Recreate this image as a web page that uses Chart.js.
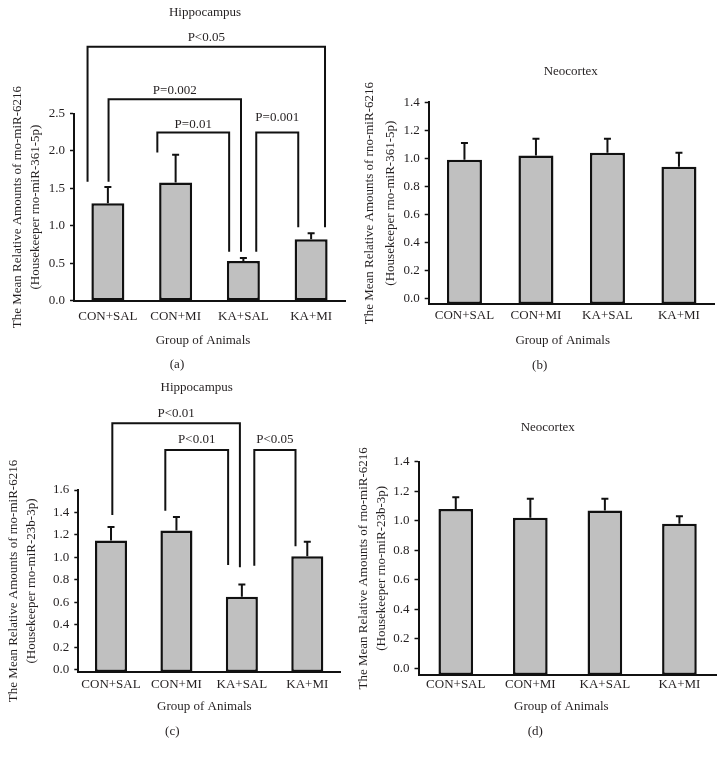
<!DOCTYPE html>
<html>
<head>
<meta charset="utf-8">
<script src="https://cdn.jsdelivr.net/npm/chart.js@4.4.1/dist/chart.umd.min.js"></script>
<style>
html,body{margin:0;padding:0;background:#fff;}
#wrap{position:relative;width:726px;height:758px;background:#fff;}
canvas{position:absolute;left:0;top:0;}
</style>
</head>
<body>
<div id="wrap">
<canvas id="pa" width="726" height="758"></canvas>
<canvas id="pb" width="726" height="758"></canvas>
<canvas id="pc" width="726" height="758"></canvas>
<canvas id="pd" width="726" height="758"></canvas>
</div>
<script>
// ---------- data ----------
const groups = ['CON+SAL', 'CON+MI', 'KA+SAL', 'KA+MI'];

const hippo361Mean = [1.30, 1.58, 0.53, 0.82];
const hippo361Err  = [0.22, 0.37, 0.04, 0.08];
const neo361Mean   = [0.99, 1.02, 1.04, 0.94];
const neo361Err    = [0.12, 0.12, 0.10, 0.10];
const hippo23bMean = [1.15, 1.24, 0.65, 1.01];
const hippo23bErr  = [0.12, 0.12, 0.11, 0.13];
const neo23bMean   = [1.08, 1.02, 1.07, 0.98];
const neo23bErr    = [0.08, 0.13, 0.08, 0.05];

const ticksA = [0.0, 0.5, 1.0, 1.5, 2.0, 2.5];
const ticksB = [0.0, 0.2, 0.4, 0.6, 0.8, 1.0, 1.2, 1.4];
const ticksC = [0.0, 0.2, 0.4, 0.6, 0.8, 1.0, 1.2, 1.4, 1.6];
const ticksD = [0.0, 0.2, 0.4, 0.6, 0.8, 1.0, 1.2, 1.4];

// significance brackets: category span (fractional index), bracket height and leg ends (data units)
const hippo361Brackets = [
  {label: 'P<0.05',  from: -0.30, to: 3.205, top: 3.39, leftEnd: 1.59, rightEnd: 0.98, labelAt: 3.52},
  {label: 'P=0.002', from: 0.01,  to: 1.965, top: 2.69, leftEnd: 1.59, rightEnd: 0.654, labelAt: 2.80},
  {label: 'P=0.01',  from: 0.73,  to: 1.79,  top: 2.245, leftEnd: 1.98, rightEnd: 0.654, labelAt: 2.35},
  {label: 'P=0.001', from: 2.19,  to: 2.81,  top: 2.245, leftEnd: 0.654, rightEnd: 0.98, labelAt: 2.45}
];
const hippo23bBrackets = [
  {label: 'P<0.01', from: 0.02, to: 1.97, top: 2.193, leftEnd: 1.378, rightEnd: 0.913, labelAt: 2.28},
  {label: 'P<0.01', from: 0.83, to: 1.79, top: 1.956, leftEnd: 1.416, rightEnd: 0.933, labelAt: 2.044},
  {label: 'P<0.05', from: 2.19, to: 2.82, top: 1.956, leftEnd: 0.927, rightEnd: 1.10, labelAt: 2.044}
];

const yTitle361 = ['The Mean Relative Amounts of rno-miR-6216', '(Housekeeper rno-miR-361-5p)'];
const yTitle23b = ['The Mean Relative Amounts of rno-miR-6216', '(Housekeeper rno-miR-23b-3p)'];

// ---------- style ----------
const FONT = '"Liberation Serif", "Times New Roman", serif';
const TXT = '#231f20';
const INK = '#111111';
const FILL = '#c0c0c0';

const overlay = {
  id: 'overlay',
  afterDatasetsDraw(chart) {
    const o = chart.options.plugins.overlay;
    const {ctx} = chart;
    const x = chart.scales.x, y = chart.scales.y;
    const vals = chart.data.datasets[0].data;
    ctx.save();
    ctx.strokeStyle = INK;
    ctx.lineWidth = 2;
    ctx.lineCap = 'butt';
    // error bars
    o.err.forEach((e, i) => {
      const px = x.getPixelForValue(i);
      const y0 = y.getPixelForValue(vals[i]);
      const y1 = y.getPixelForValue(vals[i] + e);
      ctx.beginPath();
      ctx.moveTo(px, y0); ctx.lineTo(px, y1);
      ctx.moveTo(px - 3.5, y1); ctx.lineTo(px + 3.5, y1);
      ctx.stroke();
    });
    // brackets
    ctx.fillStyle = TXT;
    ctx.font = '13px ' + FONT;
    ctx.textAlign = 'center';
    ctx.textBaseline = 'middle';
    (o.brackets || []).forEach(b => {
      const x1 = x.getPixelForValue(b.from), x2 = x.getPixelForValue(b.to);
      const yt = y.getPixelForValue(b.top);
      ctx.beginPath();
      ctx.moveTo(x1, y.getPixelForValue(b.leftEnd));
      ctx.lineTo(x1, yt);
      ctx.lineTo(x2, yt);
      ctx.lineTo(x2, y.getPixelForValue(b.rightEnd));
      ctx.stroke();
      ctx.fillText(b.label, (x1 + x2) / 2, y.getPixelForValue(b.labelAt));
    });
    // texts
    o.texts.forEach(t => ctx.fillText(t.text, t.x, t.y));
    ctx.restore();
  }
};

function makePanel(id, p) {
  return new Chart(document.getElementById(id), {
    type: 'bar',
    data: {
      labels: groups,
      datasets: [{
        data: p.mean,
        backgroundColor: FILL,
        borderColor: INK,
        borderWidth: 2.5,
        borderSkipped: false,
        base: p.yMin,
        categoryPercentage: 1,
        barPercentage: p.barPct
      }]
    },
    options: {
      responsive: false,
      animation: false,
      events: [],
      layout: {padding: {left: p.L - p.yW, right: 726 - p.R, top: p.T, bottom: 758 - p.B - 30}},
      plugins: {
        legend: {display: false},
        tooltip: {enabled: false},
        overlay: {err: p.err, brackets: p.brackets, texts: p.texts}
      },
      scales: {
        x: {
          grid: {display: false, drawTicks: false, tickLength: 0},
          border: {display: true, color: INK, width: 2},
          ticks: {font: {family: FONT, size: 13}, color: TXT, padding: p.xPad, maxRotation: 0, autoSkip: false},
          afterFit: s => { s.height = 30; }
        },
        y: {
          min: p.yMin, max: p.yMax,
          afterBuildTicks: s => { s.ticks = p.ticks.map(v => ({value: v})); },
          ticks: {font: {family: FONT, size: 13}, color: TXT, padding: 5, callback: v => Number(v).toFixed(1)},
          grid: {display: true, drawOnChartArea: false, drawTicks: true, tickLength: 4, tickColor: INK, tickWidth: 1.5},
          border: {display: true, color: INK, width: 2},
          title: {display: true, text: p.yTitle, color: TXT, padding: 0,
                  font: {family: FONT, size: 13, lineHeight: p.yLH / 13}},
          afterFit: s => { s.width = p.yW; }
        }
      }
    },
    plugins: [overlay]
  });
}

makePanel('pa', {
  mean: hippo361Mean, err: hippo361Err, ticks: ticksA, brackets: hippo361Brackets, yTitle: yTitle361,
  L: 74, R: 345, T: 113.5, B: 300.7, yMin: 0, yMax: 2.5, yW: 65, yLH: 18, barPct: 0.487, xPad: 8,
  texts: [{text: 'Hippocampus', x: 205, y: 12.7}, {text: 'Group of Animals', x: 203, y: 341}, {text: '(a)', x: 177, y: 365}]
});
makePanel('pb', {
  mean: neo361Mean, err: neo361Err, ticks: ticksB, brackets: [], yTitle: yTitle361,
  L: 428.7, R: 714.7, T: 102.3, B: 304, yMin: -0.038, yMax: 1.4, yW: 69.5, yLH: 21, barPct: 0.49, xPad: 4,
  texts: [{text: 'Neocortex', x: 570.7, y: 71.7}, {text: 'Group of Animals', x: 562.7, y: 340.7}, {text: '(b)', x: 539.7, y: 365.7}]
});
makePanel('pc', {
  mean: hippo23bMean, err: hippo23bErr, ticks: ticksC, brackets: hippo23bBrackets, yTitle: yTitle23b,
  L: 78.3, R: 340, T: 490, B: 672, yMin: -0.018, yMax: 1.6, yW: 74, yLH: 18.4, barPct: 0.49, xPad: 5,
  texts: [{text: 'Hippocampus', x: 196.7, y: 387.3}, {text: 'Group of Animals', x: 204.3, y: 706.7}, {text: '(c)', x: 172.3, y: 731.7}]
});
makePanel('pd', {
  mean: neo23bMean, err: neo23bErr, ticks: ticksD, brackets: [], yTitle: yTitle23b,
  L: 418.5, R: 716.7, T: 461.7, B: 675, yMin: -0.044, yMax: 1.4, yW: 63.5, yLH: 17.7, barPct: 0.465, xPad: 2,
  texts: [{text: 'Neocortex', x: 547.7, y: 427.7}, {text: 'Group of Animals', x: 561.3, y: 706.7}, {text: '(d)', x: 535.3, y: 731.7}]
});
</script>
</body>
</html>
